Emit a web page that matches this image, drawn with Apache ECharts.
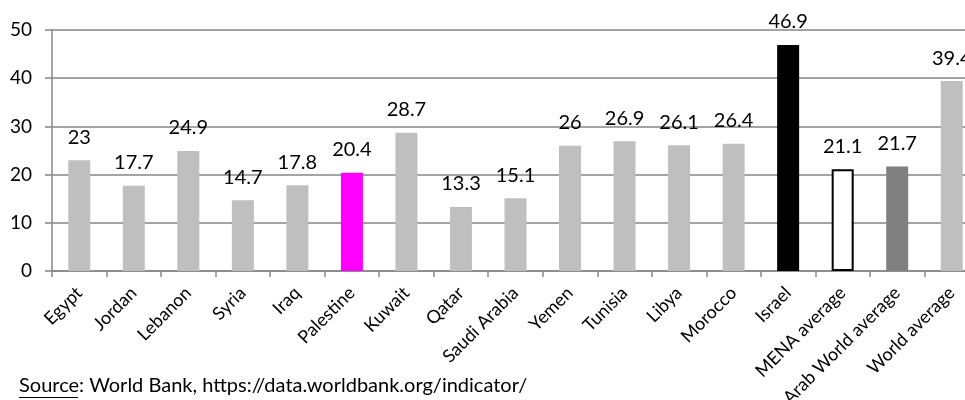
<!DOCTYPE html>
<html>
<head>
<meta charset="utf-8">
<script src="https://cdn.jsdelivr.net/npm/echarts@6/dist/echarts.min.js"></script>
<style>
html,body{margin:0;padding:0;background:#fff;}
#chart{width:965px;height:400px;}
</style>
</head>
<body>
<div id="chart"></div>
<script>
const categories = ['Egypt','Jordan','Lebanon','Syria','Iraq','Palestine','Kuwait','Qatar','Saudi Arabia','Yemen','Tunisia','Libya','Morocco','Israel','MENA average','Arab World average','World average'];
const values = [23, 17.7, 24.9, 14.7, 17.8, 20.4, 28.7, 13.3, 15.1, 26, 26.9, 26.1, 26.4, 46.9, 21.1, 21.7, 39.4];
const yTicks = [0, 10, 20, 30, 40, 50];
const sourceLabel = 'Source';
const sourceRest = ': World Bank, https://data.worldbank.org/indicator/';

const FONT = 'Lato, "Open Sans", sans-serif';
const special = {
  'Palestine': {color: '#FF00FF'},
  'Israel': {color: '#000000'},
  'MENA average': {color: '#FFFFFF', borderColor: '#000000', borderWidth: 2},
  'Arab World average': {color: '#808080'}
};
const seriesData = values.map((v, i) => ({
  value: v,
  itemStyle: special[categories[i]] || {color: '#BFBFBF'}
}));

const chart = echarts.init(document.getElementById('chart'), null, {renderer: 'canvas'});
chart.setOption({
  animation: false,
  backgroundColor: '#ffffff',
  grid: {left: 52, top: 30, width: 927, height: 241, containLabel: false, outerBoundsMode: 'none'},
  xAxis: {
    type: 'category',
    data: categories,
    axisLine: {show: true, lineStyle: {color: '#868686', width: 1.5}},
    axisTick: {show: true, length: 6, lineStyle: {color: '#868686', width: 1.5}},
    axisLabel: {rotate: 45, interval: 0, margin: 19, fontFamily: FONT, fontSize: 18, color: '#000', hideOverlap: false},
    splitLine: {show: false}
  },
  yAxis: {
    type: 'value',
    min: yTicks[0],
    max: yTicks[yTicks.length - 1],
    interval: 10,
    axisLine: {show: true, lineStyle: {color: '#868686', width: 1.5}},
    axisTick: {show: true, length: 7, lineStyle: {color: '#868686', width: 1.5}},
    axisLabel: {margin: 20, fontFamily: FONT, fontSize: 19, color: '#000'},
    splitLine: {show: true, lineStyle: {color: '#868686', width: 1.5}}
  },
  series: [{
    type: 'bar',
    data: seriesData,
    barWidth: 22,
    label: {
      show: true,
      position: 'top',
      distance: 13,
      fontFamily: FONT,
      fontSize: 20,
      color: '#000'
    }
  }],
  graphic: [
    {type: 'text', left: 19, top: 376, style: {text: sourceLabel + sourceRest, font: '20px ' + FONT, fill: '#000'}},
    {type: 'line', shape: {x1: 19, y1: 397.5, x2: 78, y2: 397.5}, style: {stroke: '#000', lineWidth: 1}}
  ]
});
</script>
</body>
</html>
